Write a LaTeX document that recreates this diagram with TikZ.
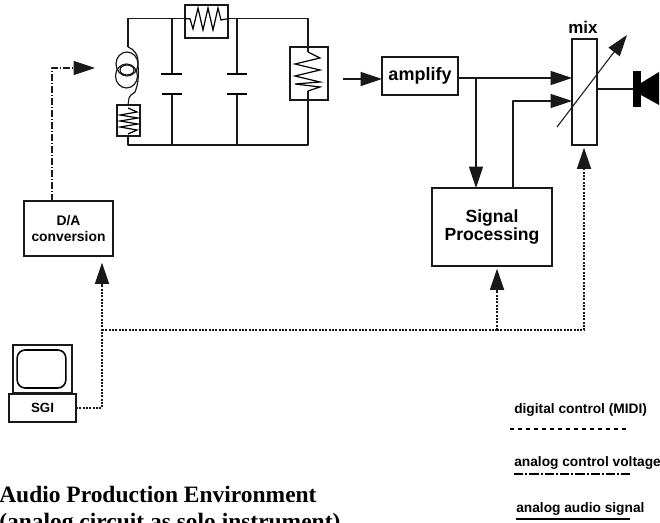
\documentclass[tikz,border=0pt]{standalone}
\usepackage{fontspec}
\setmainfont{Liberation Serif}
\setsansfont{Liberation Sans}
\usetikzlibrary{arrows.meta}
\tikzset{
  wire/.style={line width=.8pt,line join=round,draw=black!90},
  box/.style={draw=black!90,line width=.9pt,inner sep=0pt,outer sep=0pt,align=center,font=\sffamily\bfseries},
  zig/.style={line width=.9pt,line join=miter,draw=black},
  bighead/.style={-{Triangle[length=16pt,width=10.5pt]}},
  ctrl/.style={line width=1.4pt,dash pattern=on 1.4pt off 1.1pt,draw=black!90},
  legendtext/.style={anchor=base west,inner sep=0pt,font=\sffamily\bfseries\fontsize{10.3pt}{12pt}\selectfont},
}
\begin{document}
\begin{tikzpicture}[x=.75pt,y=-.75pt]
\useasboundingbox (0,0) rectangle (660,523);
% circuit boxes
\node[box,minimum width=32.25pt,minimum height=24.75pt] (rtop) at (206.5,21.5) {};
\node[box,minimum width=28.5pt,minimum height=39.75pt] (rright) at (309,73.5) {};
\node[box,minimum width=17.25pt,minimum height=23.25pt] (rsmall) at (128.5,120.5) {};
% corners and junctions
\coordinate (tl) at (128,18.7);
\coordinate (tr) at (308,18.7);
\coordinate (bl) at (128,145);
\coordinate (br) at (308,145);
\coordinate (c1t) at (172,74);
\coordinate (c1b) at (172,94);
\coordinate (c2t) at (237,74);
\coordinate (c2b) at (237,94);
\coordinate (coiltop) at (128,47);
\coordinate (coilbot) at (129,98);
% circuit wires
\draw[wire] (coiltop) -- (tl) -- (tl -| rtop.west);
\draw[wire] (tl -| rtop.east) -- (tr) -- (rright.north -| tr) -- (308,52);
\draw[wire] (308,91) -- (308,100) -- (br) -- (bl) -- (128,136);
\draw[wire] (128,105) -- (coilbot);
\draw[wire] (c1t |- tl) -- (c1t);
\draw[wire] (c1b) -- (c1b |- bl);
\draw[wire] (c2t |- tl) -- (c2t);
\draw[wire] (c2b) -- (c2b |- bl);
\draw[line width=1pt] (161,74) -- (182,74) (162,94) -- (182,94);
\draw[line width=1pt] (227,74) -- (247,74) (227,94) -- (247,94);
% resistors
\draw[zig] (185,18.7) -- (190,18.7) -- (193,29) -- (198,8) -- (203,30) -- (208,8) -- (213,30) -- (218,8) -- (221,20) -- (228,18.7);
\draw[zig] (308,52) -- (320,58) -- (295,64) -- (320,70) -- (295,76) -- (320,82) -- (295,84) -- (320,87) -- (308,91);
\draw[zig] (128,108) -- (137,112) -- (120,115) -- (138,118) -- (120,121) -- (138,124) -- (120,127) -- (137,130) -- (128,134);
% coil
\draw[wire,line width=.9pt] (coiltop) .. controls (134,49) and (139,55) .. (138,65)
   .. controls (139,76) and (138,85) .. (135,92) .. controls (132,95) and (129,95) .. (coilbot);
\draw[wire,line width=.9pt] (127,64) ellipse [x radius=11,y radius=12];
\draw[wire,line width=.9pt] (126.5,76) ellipse [x radius=11,y radius=12];
\draw[wire,line width=.9pt] (127,70) ellipse [x radius=7,y radius=5];
% amplify, mix, processing
\node[box,minimum width=57pt,minimum height=28.5pt,font=\sffamily\bfseries\fontsize{13.5pt}{15pt}\selectfont] (amp) at (420,76) {amplify};
\node[box,minimum width=18.75pt,minimum height=79.5pt] (mix) at (584.5,92) {};
\node[box,minimum width=90pt,minimum height=58.5pt,font=\sffamily\bfseries\fontsize{13.2pt}{13.5pt}\selectfont] (sig) at (492,227) {Signal\\Processing};
\node[box,minimum width=66.75pt,minimum height=41.25pt,font=\sffamily\bfseries\fontsize{10.4pt}{12pt}\selectfont] (da) at (68.5,228.5) {D/A\\conversion};
\node[inner sep=0pt,font=\sffamily\bfseries\fontsize{12.7pt}{14pt}\selectfont] (mixlabel) at (583,27) {mix};
% SGI
\node[box,minimum width=44.25pt,minimum height=36pt] (mon) at (42.5,369) {};
\node[draw=black,line width=1.2pt,rounded corners=6pt,inner sep=0pt,minimum width=36.5pt,minimum height=28.5pt] (screen) at (41.5,369) {};
\node[box,line width=1.1pt,minimum width=50.25pt,minimum height=21pt,font=\sffamily\bfseries\fontsize{10pt}{12pt}\selectfont] (sgi) at (42.5,408) {SGI};
% audio connectors
\coordinate (ampin) at (343,79);
\coordinate (ampout) at (476,78);
\coordinate (sigout) at (513,101);
\coordinate (mixin1) at (572,78);
\coordinate (mixin2) at (572,101);
\draw[wire,bighead] (ampin) -- (ampin -| amp.west);
\draw[wire,bighead] (amp.east |- ampout) -- (mixin1);
\draw[wire,bighead] (ampout) -- (ampout |- sig.north);
\draw[wire,bighead] (sigout |- sig.north) -- (sigout) -- (mixin2);
% variable arrow
\coordinate (vara) at (557,127);
\coordinate (varb) at (627,35);
\draw[wire,bighead] (vara) -- (varb);
% speaker
\coordinate (spk) at (634,89);
\draw[wire] (mix.east |- spk) -- (spk);
\fill[black] (633,71) rectangle (641,107);
\fill[black] (641,83) -- (659,72) -- (659,105) -- (641,95) -- cycle;
% control connectors
\coordinate (dac) at (52,68);
\coordinate (coilin) at (95,68);
\coordinate (junc) at (102,330);
\coordinate (jsig) at (497,330);
\coordinate (jmix) at (584,330);
\draw[wire,dash pattern=on 5pt off 1.5pt on 1pt off 1.5pt,bighead] (da.north -| dac) -- (dac) -- (coilin);
\draw[ctrl,bighead,shorten >=5pt] (sgi.east) -| (junc) -- (junc |- da.south);
\draw[ctrl] (junc) -- (jsig);
\draw[ctrl,bighead,shorten >=2pt] (jsig) -- (jsig |- sig.south);
\draw[ctrl,bighead,shorten >=2pt] (jsig) -- (jmix) -- (jmix |- mix.south);
% legend
\node[legendtext] (l1) at (514,414) {digital control (MIDI)};
\node[legendtext] (l2) at (514,466) {analog control voltage};
\node[legendtext] (l3) at (516,512) {analog audio signal};
\coordinate (l1a) at (510,429); \coordinate (l1b) at (627,429);
\coordinate (l2a) at (514,474); \coordinate (l2b) at (630,474);
\coordinate (l3a) at (516,519); \coordinate (l3b) at (630,519);
\draw[line width=1.2pt,dash pattern=on 3pt off 3pt] (l1a) -- (l1b);
\draw[line width=.9pt,dash pattern=on 7pt off 1.5pt on 1.5pt off 1.5pt] (l2a) -- (l2b);
\draw[line width=.8pt] (l3a) -- (l3b);
% title
\node[anchor=base west,inner sep=0pt,font=\rmfamily\bfseries\fontsize{17.6pt}{20pt}\selectfont] (t1) at (-1,502) {Audio Production Environment};
\node[anchor=base west,inner sep=0pt,font=\rmfamily\bfseries\fontsize{17.6pt}{20pt}\selectfont] (t2) at (-1,529) {(analog circuit as solo instrument)};
\end{tikzpicture}
\end{document}
